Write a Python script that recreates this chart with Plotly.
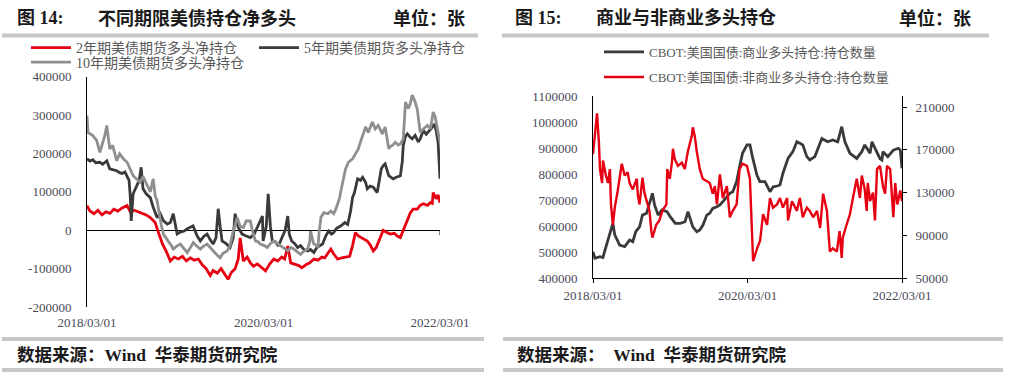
import plotly.graph_objects as go

W, H = 1011, 392


def px(x):
    return x / W


def py(y):
    return 1 - y / H


# ---------------- Figure 14 data: net long positions (contracts) ----------------
net_2y = [
    ("2018-03-01", 64000), ("2018-03-13", 50000), ("2018-03-30", 43000), ("2018-04-15", 52000),
    ("2018-05-02", 40000), ("2018-05-18", 48000), ("2018-06-04", 44000), ("2018-06-20", 55000),
    ("2018-07-07", 50000), ("2018-07-24", 58000), ("2018-08-14", 64000), ("2018-08-27", 48000),
    ("2018-09-12", 52000), ("2018-10-07", 46000), ("2018-11-01", 40000), ("2018-11-18", 33000),
    ("2018-12-08", 20000), ("2018-12-21", -5000), ("2019-01-07", -35000), ("2019-01-23", -55000),
    ("2019-02-09", -80000), ("2019-02-25", -70000), ("2019-03-14", -75000), ("2019-03-31", -68000),
    ("2019-04-16", -80000), ("2019-05-03", -72000), ("2019-05-19", -78000), ("2019-06-05", -75000),
    ("2019-06-21", -90000), ("2019-07-07", -100000), ("2019-07-24", -118000), ("2019-08-05", -105000),
    ("2019-08-22", -112000), ("2019-09-07", -100000), ("2019-09-24", -115000), ("2019-10-06", -128000),
    ("2019-10-19", -110000), ("2019-11-04", -100000), ("2019-11-17", -75000), ("2019-11-25", -20000),
    ("2019-12-08", -80000), ("2019-12-24", -70000), ("2020-01-06", -85000), ("2020-01-19", -94000),
    ("2020-02-04", -88000), ("2020-02-21", -96000), ("2020-03-09", -106000), ("2020-03-26", -88000),
    ("2020-04-12", -75000), ("2020-04-28", -80000), ("2020-05-15", -70000), ("2020-05-27", -75000),
    ("2020-06-09", -41000), ("2020-06-21", -85000), ("2020-07-08", -88000), ("2020-07-25", -92000),
    ("2020-08-06", -98000), ("2020-08-23", -90000), ("2020-09-08", -85000), ("2020-09-25", -75000),
    ("2020-10-12", -78000), ("2020-10-28", -70000), ("2020-11-09", -72000), ("2020-11-22", -60000),
    ("2020-12-04", -49000), ("2020-12-16", -62000), ("2021-01-01", -75000), ("2021-01-18", -72000),
    ("2021-02-03", -70000), ("2021-02-20", -68000), ("2021-03-04", -40000), ("2021-03-16", -6000),
    ("2021-03-28", -15000), ("2021-04-09", -19000), ("2021-04-22", -22000), ("2021-05-04", -28000),
    ("2021-05-16", -38000), ("2021-05-29", -54000), ("2021-06-10", -45000), ("2021-06-23", -25000),
    ("2021-07-09", 0), ("2021-07-22", -5000), ("2021-08-07", -10000), ("2021-08-24", -8000),
    ("2021-09-05", -15000), ("2021-09-18", -19000), ("2021-09-30", 0), ("2021-10-17", 24000),
    ("2021-10-29", 45000), ("2021-11-10", 55000), ("2021-11-27", 55000), ("2021-12-09", 65000),
    ("2021-12-22", 69000), ("2022-01-08", 65000), ("2022-01-20", 72000), ("2022-01-28", 70000),
    ("2022-02-01", 98000), ("2022-02-13", 82000), ("2022-02-21", 92000), ("2022-03-01", 72000),
]

net_5y = [
    ("2018-03-01", 186000), ("2018-03-13", 180000), ("2018-03-25", 184000), ("2018-04-06", 176000),
    ("2018-04-23", 177000), ("2018-05-05", 172000), ("2018-05-22", 181000), ("2018-06-03", 160000),
    ("2018-06-15", 158000), ("2018-07-02", 155000), ("2018-07-14", 150000), ("2018-07-24", 148000),
    ("2018-08-05", 152000), ("2018-08-14", 142000), ("2018-08-22", 130000), ("2018-08-27", 90000),
    ("2018-08-31", 24000), ("2018-09-08", 95000), ("2018-09-20", 110000), ("2018-10-03", 130000),
    ("2018-10-11", 164000), ("2018-10-19", 108000), ("2018-11-01", 95000), ("2018-11-18", 85000),
    ("2018-11-30", 60000), ("2018-12-16", 33000), ("2018-12-29", 43000), ("2019-01-11", 25000),
    ("2019-01-27", 16000), ("2019-02-09", 20000), ("2019-02-21", 43000), ("2019-03-06", 5000),
    ("2019-03-09", -10000), ("2019-03-22", -5000), ("2019-04-07", -2000), ("2019-04-24", 5000),
    ("2019-05-14", 11000), ("2019-05-31", -15000), ("2019-06-13", -28000), ("2019-06-29", -15000),
    ("2019-07-11", -10000), ("2019-07-24", -25000), ("2019-08-05", -36000), ("2019-08-17", -20000),
    ("2019-08-26", 56000), ("2019-09-03", 10000), ("2019-09-11", -28000), ("2019-09-28", -35000),
    ("2019-10-14", -45000), ("2019-10-27", -20000), ("2019-11-04", 43000), ("2019-11-17", 7000),
    ("2019-12-03", -10000), ("2019-12-20", -15000), ("2020-01-06", -19000), ("2020-01-22", -10000),
    ("2020-02-08", 15000), ("2020-02-25", 37000), ("2020-02-28", -28000), ("2020-03-12", 10000),
    ("2020-03-20", 95000), ("2020-03-29", 10000), ("2020-04-06", -28000), ("2020-04-18", -30000),
    ("2020-05-01", -41000), ("2020-05-17", -20000), ("2020-05-29", 0), ("2020-06-09", 37000),
    ("2020-06-15", -10000), ("2020-06-25", -28000), ("2020-07-08", -35000), ("2020-07-20", -45000),
    ("2020-08-01", -40000), ("2020-08-14", -50000), ("2020-08-30", -54000), ("2020-09-11", -50000),
    ("2020-09-25", -58000), ("2020-10-07", -45000), ("2020-10-19", -40000), ("2020-10-31", -36000),
    ("2020-11-13", -15000), ("2020-11-25", -2000), ("2020-12-07", -10000), ("2020-12-16", -6000),
    ("2020-12-28", 5000), ("2021-01-14", 11000), ("2021-01-31", 20000), ("2021-02-12", 15000),
    ("2021-02-24", 50000), ("2021-03-04", 85000), ("2021-03-12", 98000), ("2021-03-25", 134000),
    ("2021-04-06", 130000), ("2021-04-15", 138000), ("2021-04-27", 125000), ("2021-05-04", 108000),
    ("2021-05-16", 115000), ("2021-05-29", 112000), ("2021-06-06", 105000), ("2021-06-14", 98000),
    ("2021-06-23", 130000), ("2021-07-01", 160000), ("2021-07-09", 168000), ("2021-07-17", 173000),
    ("2021-08-01", 142000), ("2021-08-07", 140000), ("2021-08-19", 134000), ("2021-09-01", 138000),
    ("2021-09-09", 140000), ("2021-09-18", 142000), ("2021-09-26", 180000), ("2021-09-30", 221000),
    ("2021-10-09", 245000), ("2021-10-17", 251000), ("2021-10-29", 242000), ("2021-11-06", 238000),
    ("2021-11-18", 247000), ("2021-12-01", 230000), ("2021-12-09", 238000), ("2021-12-22", 260000),
    ("2022-01-03", 250000), ("2022-01-11", 255000), ("2022-01-24", 265000), ("2022-02-05", 277000),
    ("2022-02-13", 260000), ("2022-02-21", 229000), ("2022-02-25", 180000), ("2022-03-01", 134000),
]

net_10y = [
    ("2018-03-01", 299000), ("2018-03-05", 255000), ("2018-03-17", 250000), ("2018-03-25", 247000),
    ("2018-04-02", 240000), ("2018-04-10", 234000), ("2018-04-23", 203000), ("2018-05-05", 229000),
    ("2018-05-13", 245000), ("2018-05-22", 273000), ("2018-06-03", 212000), ("2018-06-15", 221000),
    ("2018-07-02", 181000), ("2018-07-14", 199000), ("2018-07-31", 185000), ("2018-08-14", 177000),
    ("2018-08-27", 160000), ("2018-09-08", 142000), ("2018-09-20", 135000), ("2018-10-07", 125000),
    ("2018-10-19", 140000), ("2018-11-05", 116000), ("2018-11-18", 100000), ("2018-11-30", 134000),
    ("2018-12-08", 90000), ("2018-12-16", 77000), ("2018-12-25", 40000), ("2019-01-02", 15000),
    ("2019-01-11", -10000), ("2019-01-23", -20000), ("2019-02-01", -28000), ("2019-02-13", -40000),
    ("2019-02-21", -49000), ("2019-03-06", -42000), ("2019-03-22", -36000), ("2019-04-04", -45000),
    ("2019-04-20", -58000), ("2019-05-03", -45000), ("2019-05-15", -32000), ("2019-05-27", -40000),
    ("2019-06-13", -49000), ("2019-06-25", -42000), ("2019-07-11", -36000), ("2019-07-24", -45000),
    ("2019-08-05", -54000), ("2019-08-17", -62000), ("2019-09-03", -72000), ("2019-09-15", -60000),
    ("2019-10-02", -54000), ("2019-10-14", -40000), ("2019-10-27", -2000), ("2019-11-04", 15000),
    ("2019-11-13", 33000), ("2019-11-25", 10000), ("2019-12-08", 7000), ("2019-12-20", 24000),
    ("2020-01-06", 24000), ("2020-01-14", 0), ("2020-01-27", -28000), ("2020-02-08", -30000),
    ("2020-02-16", -36000), ("2020-03-04", -40000), ("2020-03-16", -45000), ("2020-03-29", -35000),
    ("2020-04-12", -28000), ("2020-04-28", -35000), ("2020-05-11", -41000), ("2020-05-27", -48000),
    ("2020-06-09", -54000), ("2020-06-21", -45000), ("2020-07-04", -49000), ("2020-07-16", -55000),
    ("2020-08-01", -63000), ("2020-08-14", -55000), ("2020-08-30", -49000), ("2020-09-08", -30000),
    ("2020-09-11", -2000), ("2020-09-20", -25000), ("2020-09-25", -36000), ("2020-10-07", -40000),
    ("2020-10-12", -45000), ("2020-10-16", -10000), ("2020-10-24", 33000), ("2020-11-05", 46000),
    ("2020-11-22", 43000), ("2020-12-04", 50000), ("2020-12-16", 43000), ("2020-12-25", 55000),
    ("2021-01-01", 69000), ("2021-01-10", 85000), ("2021-01-14", 100000), ("2021-01-22", 125000),
    ("2021-02-03", 160000), ("2021-02-15", 177000), ("2021-03-04", 186000), ("2021-03-16", 199000),
    ("2021-03-28", 212000), ("2021-04-06", 230000), ("2021-04-15", 247000), ("2021-04-27", 269000),
    ("2021-05-08", 255000), ("2021-05-16", 270000), ("2021-05-25", 282000), ("2021-06-06", 264000),
    ("2021-06-18", 273000), ("2021-06-27", 262000), ("2021-07-05", 251000), ("2021-07-17", 269000),
    ("2021-07-26", 240000), ("2021-08-01", 212000), ("2021-08-07", 218000), ("2021-08-16", 221000),
    ("2021-08-28", 229000), ("2021-09-09", 222000), ("2021-09-18", 225000), ("2021-09-30", 238000),
    ("2021-10-05", 290000), ("2021-10-09", 334000), ("2021-10-21", 317000), ("2021-10-29", 330000),
    ("2021-11-06", 352000), ("2021-11-14", 340000), ("2021-11-18", 334000), ("2021-11-27", 315000),
    ("2021-12-01", 299000), ("2021-12-09", 255000), ("2021-12-22", 264000), ("2021-12-31", 268000),
    ("2022-01-08", 273000), ("2022-01-20", 264000), ("2022-01-24", 280000), ("2022-02-01", 308000),
    ("2022-02-09", 295000), ("2022-02-13", 282000), ("2022-02-21", 255000), ("2022-03-01", 229000),
]

# ---------------- Figure 15 data: long positions (contracts) ----------------
commercial_long = [
    ("2018-03-01", 502000), ("2018-03-10", 477000), ("2018-04-03", 483000), ("2018-04-17", 480000),
    ("2018-04-27", 509000), ("2018-05-11", 547000), ("2018-05-29", 598000), ("2018-06-03", 611000),
    ("2018-06-12", 567000), ("2018-07-05", 528000), ("2018-07-29", 522000), ("2018-08-21", 547000),
    ("2018-09-05", 541000), ("2018-09-19", 579000), ("2018-10-07", 598000), ("2018-10-21", 643000),
    ("2018-11-09", 650000), ("2018-11-23", 688000), ("2018-12-07", 727000), ("2018-12-17", 682000),
    ("2019-01-03", 643000), ("2019-01-21", 663000), ("2019-02-14", 656000), ("2019-03-01", 637000),
    ("2019-03-25", 611000), ("2019-04-17", 611000), ("2019-05-10", 618000), ("2019-05-24", 656000),
    ("2019-06-02", 631000), ("2019-06-16", 598000), ("2019-07-05", 579000), ("2019-07-19", 586000),
    ("2019-08-03", 605000), ("2019-08-21", 643000), ("2019-09-04", 650000), ("2019-09-18", 669000),
    ("2019-10-08", 675000), ("2019-10-22", 682000), ("2019-11-05", 695000), ("2019-11-24", 714000),
    ("2019-12-08", 727000), ("2019-12-22", 733000), ("2020-01-09", 772000), ("2020-01-23", 829000),
    ("2020-02-06", 881000), ("2020-02-27", 913000), ("2020-03-12", 913000), ("2020-03-26", 860000),
    ("2020-04-14", 797000), ("2020-04-28", 772000), ("2020-05-22", 772000), ("2020-06-15", 733000),
    ("2020-06-30", 752000), ("2020-07-18", 755000), ("2020-08-01", 759000), ("2020-08-15", 804000),
    ("2020-09-08", 861000), ("2020-10-01", 887000), ("2020-10-20", 925000), ("2020-11-03", 919000),
    ("2020-11-17", 913000), ("2020-12-06", 868000), ("2020-12-20", 855000), ("2021-01-13", 868000),
    ("2021-01-27", 900000), ("2021-02-15", 938000), ("2021-03-15", 925000), ("2021-04-08", 932000),
    ("2021-05-01", 925000), ("2021-05-20", 983000), ("2021-06-04", 925000), ("2021-06-28", 881000),
    ("2021-07-30", 861000), ("2021-08-23", 887000), ("2021-09-06", 913000), ("2021-10-01", 881000),
    ("2021-10-10", 925000), ("2021-11-03", 881000), ("2021-11-17", 860000), ("2021-11-26", 855000),
    ("2021-12-01", 887000), ("2021-12-24", 868000), ("2022-01-19", 893000), ("2022-02-12", 900000),
    ("2022-02-21", 893000), ("2022-03-01", 823000),
]

noncommercial_long = [
    ("2018-03-01", 166000), ("2018-03-10", 183000), ("2018-03-20", 204000), ("2018-03-29", 177000),
    ("2018-04-03", 152000), ("2018-04-13", 139000), ("2018-04-17", 160000), ("2018-05-01", 146000),
    ("2018-05-11", 139000), ("2018-05-20", 152000), ("2018-05-25", 119000), ("2018-06-03", 100000),
    ("2018-06-12", 116000), ("2018-06-26", 132000), ("2018-07-15", 157000), ("2018-07-29", 146000),
    ("2018-08-12", 149000), ("2018-08-21", 139000), ("2018-09-05", 133000), ("2018-09-24", 143000),
    ("2018-09-29", 128000), ("2018-10-07", 119000), ("2018-10-21", 144000), ("2018-10-30", 130000),
    ("2018-11-09", 122000), ("2018-11-23", 113000), ("2018-12-02", 94000), ("2018-12-07", 88000),
    ("2018-12-25", 100000), ("2019-01-09", 104000), ("2019-01-23", 113000), ("2019-02-11", 119000),
    ("2019-02-15", 152000), ("2019-02-27", 143000), ("2019-03-09", 158000), ("2019-03-14", 171000),
    ("2019-03-23", 161000), ("2019-04-07", 155000), ("2019-04-25", 158000), ("2019-05-09", 152000),
    ("2019-05-23", 168000), ("2019-06-11", 183000), ("2019-06-16", 191000), ("2019-06-25", 183000),
    ("2019-07-05", 168000), ("2019-07-19", 152000), ("2019-08-02", 143000), ("2019-08-21", 141000),
    ("2019-09-04", 139000), ("2019-09-18", 129000), ("2019-09-28", 136000), ("2019-10-08", 119000),
    ("2019-10-22", 147000), ("2019-11-05", 125000), ("2019-11-24", 136000), ("2019-12-08", 107000),
    ("2019-12-22", 113000), ("2020-01-09", 119000), ("2020-01-23", 152000), ("2020-02-06", 157000),
    ("2020-02-27", 155000), ("2020-03-12", 143000), ("2020-03-21", 100000), ("2020-03-27", 66000),
    ("2020-04-15", 78000), ("2020-04-29", 85000), ("2020-05-13", 110000), ("2020-06-01", 100000),
    ("2020-06-15", 125000), ("2020-06-29", 116000), ("2020-07-18", 119000), ("2020-08-01", 125000),
    ("2020-08-15", 116000), ("2020-09-04", 125000), ("2020-09-08", 104000), ("2020-09-27", 122000),
    ("2020-10-20", 113000), ("2020-11-03", 125000), ("2020-11-17", 107000), ("2020-12-06", 116000),
    ("2020-12-20", 113000), ("2021-01-05", 107000), ("2021-01-23", 113000), ("2021-02-07", 97000),
    ("2021-02-21", 129000), ("2021-03-11", 113000), ("2021-03-25", 75000), ("2021-04-08", 78000),
    ("2021-04-27", 75000), ("2021-05-10", 94000), ("2021-05-20", 69000), ("2021-05-25", 88000),
    ("2021-06-12", 100000), ("2021-06-28", 110000), ("2021-07-12", 125000), ("2021-07-30", 143000),
    ("2021-08-14", 125000), ("2021-08-23", 146000), ("2021-09-06", 133000), ("2021-09-15", 113000),
    ("2021-09-20", 139000), ("2021-10-01", 122000), ("2021-10-15", 130000), ("2021-10-24", 104000),
    ("2021-11-03", 152000), ("2021-11-17", 155000), ("2021-12-01", 136000), ("2021-12-11", 129000),
    ("2021-12-20", 155000), ("2022-01-04", 152000), ("2022-01-19", 107000), ("2022-01-28", 139000),
    ("2022-02-07", 119000), ("2022-02-21", 132000), ("2022-03-01", 122000),
]

date_ticks = ["2018-03-01", "2020-03-01", "2022-03-01"]
date_labels = ["2018/03/01", "2020/03/01", "2022/03/01"]
left_ticks = [-200000, -100000, 0, 100000, 200000, 300000, 400000]
mid_ticks = [400000, 500000, 600000, 700000, 800000, 900000, 1000000, 1100000]
right_ticks = [50000, 90000, 130000, 170000, 210000]

names14 = ["2年期美债期货多头净持仓", "5年期美债期货多头净持仓", "10年期美债期货多头净持仓"]
names15 = ["CBOT:美国国债:商业多头持仓:持仓数量", "CBOT:美国国债:非商业多头持仓:持仓数量"]


def split(series):
    return [d for d, _ in series], [v for _, v in series]


SERIF = "Liberation Serif"
CJK = "Liberation Serif, Noto Sans CJK SC"
TICK_COLOR = "#4a4a58"
LEG_COLOR = "#595959"

fig = go.Figure()

styles14 = [("#e60012", 2.8, "legend"), ("#3a3a3a", 2.8, "legend2"), ("#8f8f8f", 2.8, "legend3")]
for series, name, (col, wid, leg) in zip([net_2y, net_5y, net_10y], names14, styles14):
    xs, ys = split(series)
    fig.add_trace(go.Scatter(x=xs, y=ys, mode="lines", name=name,
                             line=dict(color=col, width=wid), xaxis="x", yaxis="y",
                             legend=leg))

xs, ys = split(commercial_long)
fig.add_trace(go.Scatter(x=xs, y=ys, mode="lines", name=names15[0],
                         line=dict(color="#3a3a3a", width=2.8), xaxis="x2", yaxis="y2",
                         legend="legend4"))
xs, ys = split(noncommercial_long)
fig.add_trace(go.Scatter(x=xs, y=ys, mode="lines", name=names15[1],
                         line=dict(color="#e60012", width=2.4), xaxis="x2", yaxis="y3",
                         legend="legend5"))

tickfont = dict(family=SERIF, size=13, color=TICK_COLOR)

layout = dict(
    width=W, height=H,
    margin=dict(l=0, r=0, t=0, b=0, autoexpand=False),
    paper_bgcolor="white", plot_bgcolor="white",
    showlegend=True,
    xaxis=dict(domain=[px(87), px(440)], range=["2018-03-01", "2022-03-01"], anchor="y",
               type="date", showline=False, showgrid=False, zeroline=False, ticks="",
               tickvals=date_ticks, ticktext=date_labels, tickfont=tickfont,
               ticklabelstandoff=6, automargin=False),
    yaxis=dict(domain=[py(307), py(76.7)], range=[-200000, 400000], anchor="x",
               showline=True, linecolor="black", linewidth=1, showgrid=False,
               zeroline=True, zerolinecolor="black", zerolinewidth=1, ticks="",
               tickvals=left_ticks, ticktext=[str(v) for v in left_ticks], tickfont=tickfont,
               ticklabelstandoff=12, automargin=False),
    xaxis2=dict(domain=[px(593), px(902)], range=["2018-03-01", "2022-03-01"], anchor="y2",
                type="date", showline=True, linecolor="black", linewidth=1, showgrid=False,
                zeroline=False, ticks="outside", ticklen=4, tickcolor="black",
                tickvals=date_ticks, ticktext=date_labels, tickfont=tickfont,
                ticklabelstandoff=1, automargin=False),
    yaxis2=dict(domain=[py(278.3), py(96.3)], range=[400000, 1100000], anchor="x2",
                showline=True, linecolor="black", linewidth=1, showgrid=False, zeroline=False,
                ticks="", tickvals=mid_ticks, ticktext=[str(v) for v in mid_ticks],
                tickfont=tickfont, ticklabelstandoff=12, automargin=False),
    yaxis3=dict(overlaying="y2", side="right", anchor="x2", range=[50000, 220000],
                showline=True, linecolor="black", linewidth=1, showgrid=False, zeroline=False,
                ticks="outside", ticklen=4, tickcolor="black", tickvals=right_ticks,
                ticktext=[str(v) for v in right_ticks], tickfont=tickfont,
                ticklabelstandoff=6, automargin=False),
)

leg_common = dict(xanchor="left", yanchor="middle", bgcolor="rgba(0,0,0,0)",
                  borderwidth=0, itemwidth=40, tracegroupgap=0)
layout["legend"] = dict(x=px(26), y=py(48), font=dict(family=CJK, size=14, color=LEG_COLOR), **leg_common)
layout["legend2"] = dict(x=px(254), y=py(48), font=dict(family=CJK, size=14, color=LEG_COLOR), **leg_common)
layout["legend3"] = dict(x=px(26), y=py(62.5), font=dict(family=CJK, size=14, color=LEG_COLOR), **leg_common)
layout["legend4"] = dict(x=px(599), y=py(52), font=dict(family=CJK, size=13, color=LEG_COLOR), **leg_common)
layout["legend5"] = dict(x=px(599), y=py(77), font=dict(family=CJK, size=13, color=LEG_COLOR), **leg_common)

fig.update_layout(**layout)

# decorative gray rules (header / footer bands)
bar = "#c8c8c8"
rules = [
    (2, 478, 33.5, 37.5), (502, 989, 33.5, 37.5),
    (2, 484, 337, 341), (503, 1003, 337, 341),
    (2, 484, 368, 372), (503, 1003, 368, 372),
]
for x0, x1, y0, y1 in rules:
    fig.add_shape(type="rect", xref="paper", yref="paper", x0=px(x0), x1=px(x1),
                  y0=py(y1), y1=py(y0), fillcolor=bar, line=dict(width=0), layer="below")

# end tick on the zero line of figure 14
fig.add_shape(type="line", xref="x", yref="y", x0="2022-03-01", x1="2022-03-01",
              ysizemode="pixel", yanchor=0, y0=0, y1=-5, line=dict(color="black", width=1))

texts = [
    (15, 18, "<b>图 14:</b>", 18),
    (96, 18, "<b>不同期限美债持仓净多头</b>", 18),
    (391, 18, "<b>单位：张</b>", 18),
    (513, 18, "<b>图 15:</b>", 18),
    (594, 18, "<b>商业与非商业多头持仓</b>", 18),
    (897, 18, "<b>单位：张</b>", 18),
    (15, 355, "<b>数据来源：Wind  华泰期货研究院</b>", 17.5),
    (515, 355, "<b>数据来源：  Wind  华泰期货研究院</b>", 17.5),
]
for x, y, t, s in texts:
    fig.add_annotation(x=px(x), y=py(y), xref="paper", yref="paper", text=t,
                       showarrow=False, xanchor="left", yanchor="middle",
                       font=dict(family="Liberation Serif, Noto Sans CJK SC", size=s, color="#1a1a1a"))

fig.write_html("out.html", config={"displayModeBar": False},
               post_script="document.body.style.margin='0';document.body.style.padding='0';")
